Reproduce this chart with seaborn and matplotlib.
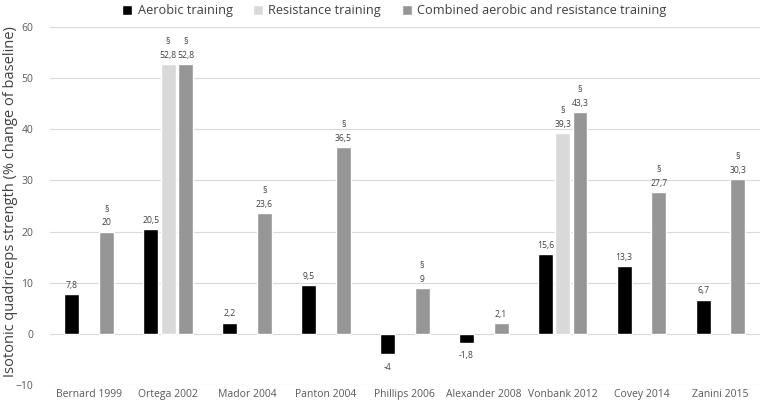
import matplotlib
matplotlib.use("Agg")
import matplotlib.pyplot as plt
import numpy as np
import pandas as pd
import seaborn as sns

studies = ["Bernard 1999", "Ortega 2002", "Mador 2004", "Panton 2004", "Phillips 2006",
           "Alexander 2008", "Vonbank 2012", "Covey 2014", "Zanini 2015"]
aerobic = [7.8, 20.5, 2.2, 9.5, -4, -1.8, 15.6, 13.3, 6.7]
resistance = [np.nan, 52.8, np.nan, np.nan, np.nan, np.nan, 39.3, np.nan, np.nan]
combined = [20, 52.8, 23.6, 36.5, 9, 2.1, 43.3, 27.7, 30.3]
# significance markers (§) per study
sig_aerobic = [False] * 9
sig_resistance = [False, True, False, False, False, False, True, False, False]
sig_combined = [True, True, True, True, True, False, True, True, True]

groups = ["Aerobic training", "Resistance training", "Combined aerobic and resistance training"]
colors = ["#000000", "#d9d9d9", "#969696"]

df = pd.DataFrame({
    "study": studies * 3,
    "group": np.repeat(groups, len(studies)),
    "value": aerobic + resistance + combined,
})
sig = {groups[0]: sig_aerobic, groups[1]: sig_resistance, groups[2]: sig_combined}

sns.set_style("white")
plt.rcParams["font.family"] = ["Open Sans", "DejaVu Sans"]

fig = plt.figure(figsize=(7.66, 4.04), dpi=100)
ax = fig.add_axes([0.065, 0.047, 0.927, 0.886])

sns.barplot(data=df, x="study", y="value", hue="group", hue_order=groups,
            order=studies, palette=colors, width=0.66, gap=0.14, ax=ax,
            legend=True)

ax.set_ylim(-10, 60)
ax.set_yticks(range(-10, 61, 10))
ax.set_xlim(-0.5, len(studies) - 0.5)
ax.grid(axis="y", color="#d9d9d9", lw=0.8)
ax.set_axisbelow(True)
for s in ax.spines.values():
    s.set_visible(False)
ax.tick_params(axis="both", length=0, labelsize=7.5, colors="#595959")
ax.tick_params(axis="x", pad=3)
ax.tick_params(axis="y", pad=12)
ax.set_xlabel("")
ax.set_ylabel("")
fig.text(0.014, 0.5, "Isotonic quadriceps strength (% change of baseline)", rotation=90,
         ha="center", va="center", fontsize=10.5, color="#404040")

# value labels with decimal comma
for container, g in zip(ax.containers, groups):
    for bar in container:
        h = bar.get_height()
        if np.isnan(h):
            continue
        idx = int(round(bar.get_x() + bar.get_width() / 2))
        txt = f"{h:g}".replace(".", ",")
        if sig[g][idx]:
            txt = "§\n" + txt
        xc = bar.get_x() + bar.get_width() / 2
        if h >= 0:
            ax.annotate(txt, (xc, h), xytext=(0, 3), textcoords="offset points",
                        ha="center", va="bottom", fontsize=6.2, color="#404040",
                        linespacing=1.7)
        else:
            ax.annotate(txt, (xc, h), xytext=(0, -6), textcoords="offset points",
                        ha="center", va="top", fontsize=6.2, color="#404040")

leg = ax.legend(loc="center", bbox_to_anchor=(0.5 - 0.015, 1.045), ncol=3, frameon=False,
                fontsize=9.2, handlelength=0.8, handleheight=0.8, handletextpad=0.4,
                columnspacing=1.6, borderaxespad=0)
for t in leg.get_texts():
    t.set_color("#404040")

fig.savefig("out.png", dpi=100)
plt.close(fig)
